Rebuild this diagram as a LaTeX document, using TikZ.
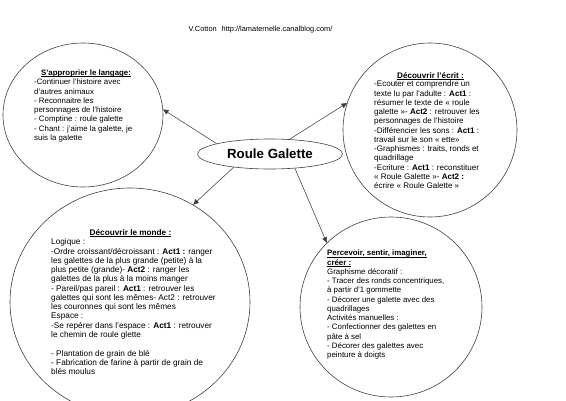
\documentclass[tikz,border=0pt]{standalone}
\usepackage{fontspec}
\setmainfont{Liberation Sans}
\newcommand\myul[1]{\leavevmode\setbox0\hbox{#1}\rlap{\rule[-1.3pt]{\wd0}{0.5pt}}\box0}
\usetikzlibrary{shapes.geometric,arrows.meta}
\begin{document}
\begin{tikzpicture}[x=1pt,y=-1pt,
  bubble/.style={ellipse,draw=black!75,line width=0.6pt,inner sep=0pt},
  link/.style={draw=black!75,line width=0.55pt,-{Triangle[length=5.5pt,width=5pt]}},
  txt/.style={inner sep=0pt,anchor=base west,font=\fontsize{#1}{9.27}\selectfont},
  txt/.default=7.85,
  ttl/.style={inner sep=0pt,anchor=base,font=\fontsize{#1}{9.27}\selectfont\bfseries},
  ttl/.default=7.85]
\useasboundingbox (0,0) rectangle (566,400);

% header
\node[inner sep=0pt,anchor=base,font=\fontsize{7.4}{9}\selectfont] (head) at (260.5,31.5)
  {V.Cotton\hspace{5pt}http://lamaternelle.canalblog.com/};

% bubbles
\node[bubble,minimum width=160pt,minimum height=144pt] (tl) at (83,115) {};
\node[bubble,minimum width=174pt,minimum height=174pt] (tr) at (430,130) {};
\node[bubble,minimum width=240pt,minimum height=228pt] (bl) at (130,302) {};
\node[bubble,minimum width=182pt,minimum height=180pt] (br) at (391,307) {};
\node[bubble,minimum width=145pt,minimum height=30pt,font=\fontsize{13.3}{16}\selectfont\bfseries] (rg) at (270,154) {Roule Galette};

% connectors
\draw[link] (rg.169) -- (tl.4);
\draw[link] (rg.37) -- (tr.162);
\draw[link] (rg.200) -- (bl.57);
\draw[link] (rg.330) -- (br.135);

% top left text
\node[ttl] (tlh) at (86,75.2) {\myul{S'approprier le langage:}};
\node[txt] (tlb) at (34,84.8) {\begin{minipage}[t]{140pt}\raggedright
-Continuer l'histoire avec\\
d'autres animaux\\
- Reconnaitre les\\
personnages de l'histoire\\
- Comptine : roule galette\\
- Chant : j'aime la galette, je\\
suis la galette
\end{minipage}};

% top right text
\node[ttl=8.1] (trh) at (430.5,78.2) {\myul{Découvrir l'écrit :}};
\node[txt=8.05] (trb) at (374,86.8) {\begin{minipage}[t]{140pt}\raggedright
-Ecouter et comprendre un\\
texte lu par l'adulte : \textbf{Act1} :\\
résumer le texte de « roule\\
galette »- \textbf{Act2} : retrouver les\\
personnages de l'histoire\\
-Différencier les sons : \textbf{Act1} :\\
travail sur le son « ette»\\
-Graphismes : traits, ronds et\\
quadrillage\\
-Ecriture : \textbf{Act1} : reconstituer\\
« Roule Galette »- \textbf{Act2 :}\\
écrire « Roule Galette »
\end{minipage}};

% bottom left text
\node[ttl=8.2] (blh) at (130.5,235.2) {\myul{Découvrir le monde :}};
\node[txt=8.25] (blb) at (51,244.8) {\begin{minipage}[t]{200pt}\raggedright
Logique :\\
-Ordre croissant/décroissant : \textbf{Act1 :} ranger\\
les galettes de la plus grande (petite) à la\\
plus petite (grande)- \textbf{Act2} : ranger les\\
galettes de la plus à la moins manger\\
- Pareil/pas pareil : \textbf{Act1} : retrouver les\\
galettes qui sont les mêmes- Act2 : retrouver\\
les couronnes qui sont les mêmes\\
Espace :\\
-Se repérer dans l'espace : \textbf{Act1} : retrouver\\
le chemin de roule glette\\[9.27pt]
- Plantation de grain de blé\\
- Fabrication de farine à partir de grain de\\
blés moulus
\end{minipage}};

% bottom right text
\node[txt] (brb) at (327,255.8) {\begin{minipage}[t]{140pt}\raggedright
\myul{\textbf{Percevoir, sentir, imaginer,}}\\
\myul{\textbf{créer :}}\\
Graphisme décoratif :\\
- Tracer des ronds concentriques,\\
à partir d'1 gommette\\
- Décorer une galette avec des\\
quadrillages\\
Activités manuelles :\\
- Confectionner des galettes en\\
pâte à sel\\
- Décorer des galettes avec\\
peinture à doigts
\end{minipage}};
\end{tikzpicture}
\end{document}
